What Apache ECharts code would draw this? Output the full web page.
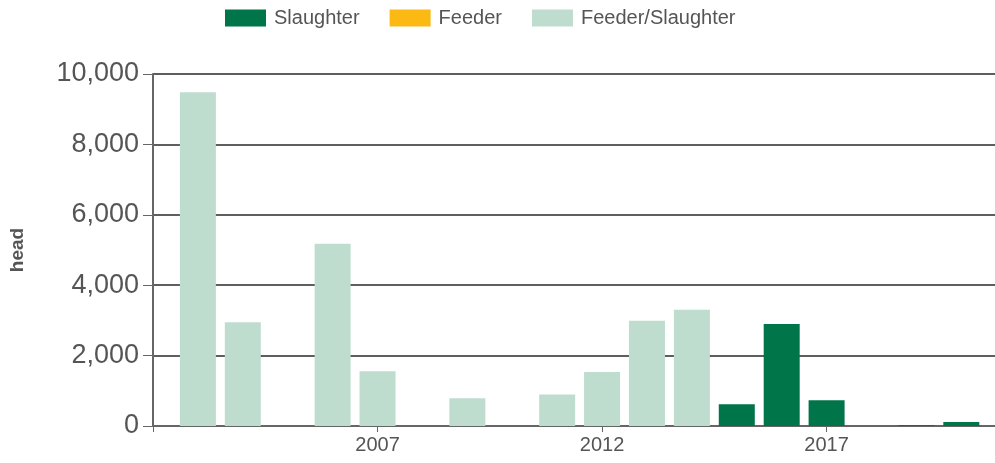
<!DOCTYPE html>
<html>
<head>
<meta charset="utf-8">
<script src="https://cdn.jsdelivr.net/npm/echarts@6/dist/echarts.min.js"></script>
<style>
html,body{margin:0;padding:0;background:#fff;}
#chart{width:995px;height:463px;}
</style>
</head>
<body>
<div id="chart"></div>
<script>
const years = [2003, 2004, 2005, 2006, 2007, 2008, 2009, 2010, 2011, 2012, 2013, 2014, 2015, 2016, 2017, 2018, 2019, 2020];
const slaughter = [0, 0, 0, 0, 0, 0, 0, 0, 0, 0, 0, 0, 620, 2900, 730, 0, 30, 115];
const feeder = [0, 0, 0, 0, 0, 0, 0, 0, 0, 0, 0, 0, 0, 0, 0, 0, 0, 0];
const feederSlaughter = [9480, 2950, 0, 5180, 1555, 0, 790, 0, 895, 1535, 2990, 3300, 0, 0, 0, 0, 0, 0];
const xTickYears = [2002, 2007, 2012, 2017];
const xLabelYears = [2007, 2012, 2017];
const yTicks = [0, 2000, 4000, 6000, 8000, 10000];

const pair = arr => years.map((y, i) => [y, arr[i]]);
const chart = echarts.init(document.getElementById('chart'));
const font = 'Arial, "Liberation Sans", sans-serif';
const grey = '#555';
const mk = (name, data, color) => ({
  name, type: 'bar', stack: 'total', barWidth: 36, data: pair(data),
  itemStyle: {color}, emphasis: {disabled: true}
});
chart.setOption({
  animation: false,
  textStyle: {fontFamily: font},
  legend: {
    top: 3, left: 220, itemWidth: 41, itemHeight: 17, itemGap: 30,
    icon: 'rect',
    textStyle: {fontSize: 20, color: grey, fontFamily: font, padding: [0, 0, 0, 3]},
    data: ['Slaughter', 'Feeder', 'Feeder/Slaughter']
  },
  grid: {left: 152, right: 0, top: 74, bottom: 37, containLabel: false},
  xAxis: {
    type: 'value', min: 2002, max: 2020.75,
    axisLine: {show: true, lineStyle: {color: '#666', width: 2}},
    axisTick: {show: true, length: 6, customValues: xTickYears, lineStyle: {color: '#666', width: 1}},
    axisLabel: {customValues: xLabelYears, fontSize: 20, color: grey, fontFamily: font, margin: 9, formatter: v => String(v)},
    splitLine: {show: false}
  },
  yAxis: {
    type: 'value', min: yTicks[0], max: yTicks[yTicks.length - 1], interval: 2000,
    name: 'head', nameLocation: 'middle', nameGap: 126, nameRotate: 90,
    nameTextStyle: {fontSize: 19, fontWeight: 'bold', color: grey, fontFamily: font},
    axisLine: {show: true, lineStyle: {color: '#666', width: 2}},
    axisTick: {show: true, length: 10, lineStyle: {color: '#666', width: 1}},
    axisLabel: {fontSize: 27, color: grey, fontFamily: font, margin: 14, formatter: v => v.toLocaleString('en-US')},
    splitLine: {show: true, lineStyle: {color: '#5e5e5e', width: 2}}
  },
  series: [
    mk('Slaughter', slaughter, '#00754A'),
    mk('Feeder', feeder, '#FDB913'),
    mk('Feeder/Slaughter', feederSlaughter, '#BFDDCF')
  ]
});
</script>
</body>
</html>
